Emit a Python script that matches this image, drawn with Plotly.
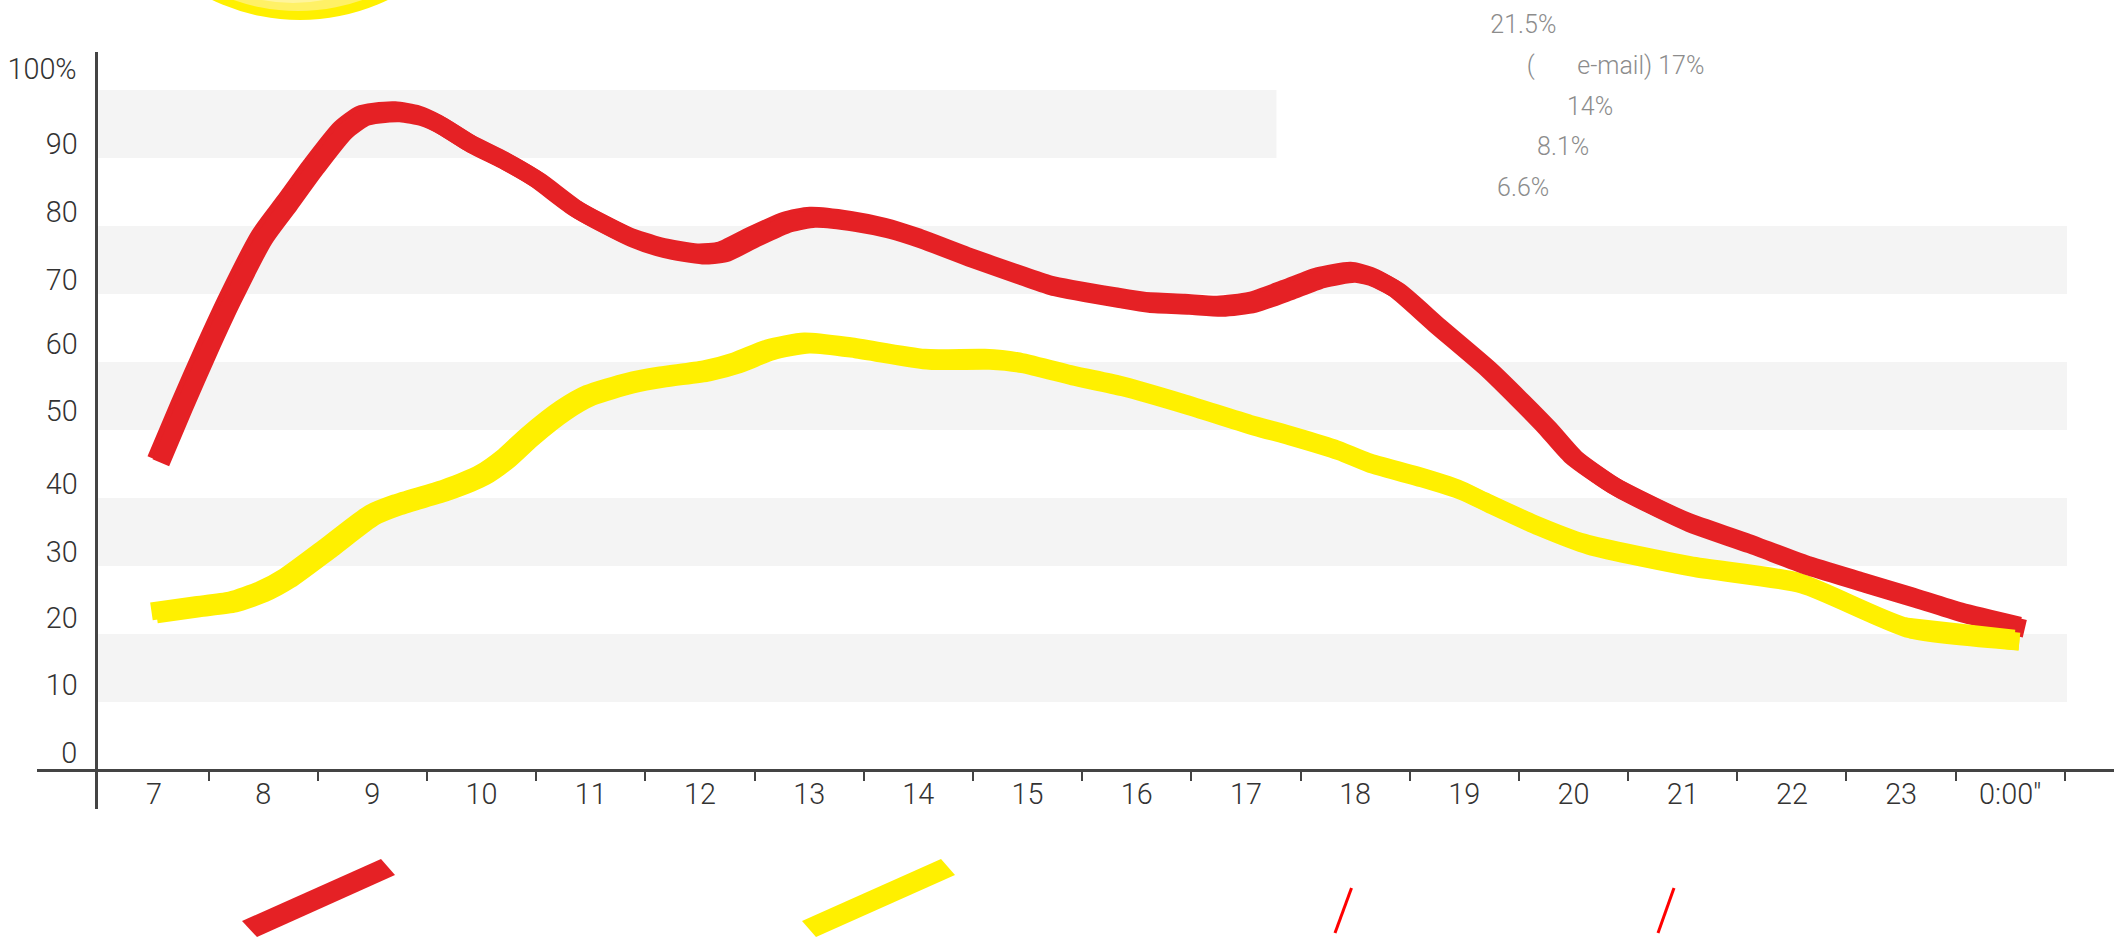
import plotly.graph_objects as go

W, H = 2114, 938

# ---- data ----
hours_red = [7.04,7.25,7.48,7.70,7.99,8.22,8.46,8.73,8.91,9.04,9.23,9.44,9.62,9.89,10.20,10.51,10.87,11.36,11.66,12.00,12.21,12.49,12.80,13.03,13.40,13.71,14.01,14.47,14.93,15.23,15.85,16.09,16.46,16.76,17.06,17.38,17.68,17.98,18.16,18.38,18.75,19.21,19.51,19.76,20.00,20.36,20.67,21.07,21.59,22.14,22.65,23.11,23.57,24.11]
values_red = [45.4,53.4,61.8,69.4,78.4,83.4,88.7,94.1,96.2,96.6,96.8,96.2,94.9,92.2,89.7,86.8,82.5,78.4,76.8,75.9,76.2,78.4,80.6,81.3,80.7,79.7,78.2,75.4,72.8,71.2,69.4,68.8,68.5,68.2,68.8,70.6,72.4,73.2,72.5,70.6,65.4,59.1,54.4,50.3,46.0,41.9,39.3,36.3,33.4,30.1,27.6,25.4,23.1,21.0]
hours_yellow = [7.00,7.39,7.72,7.99,8.22,8.61,9.00,9.23,9.68,10.01,10.23,10.44,10.75,10.99,11.36,11.66,12.06,12.34,12.64,12.98,13.40,14.08,14.63,14.93,15.39,15.85,16.46,17.06,17.38,17.83,18.14,18.59,18.96,19.21,19.66,20.12,21.09,22.07,23.06,24.06]
values_yellow = [23.1,24.0,24.7,26.2,28.2,32.8,37.5,39.0,41.2,43.4,45.9,49.0,52.9,55.1,56.9,57.8,58.7,59.9,61.8,62.8,62.1,60.4,60.4,59.9,58.1,56.5,53.7,50.7,49.3,47.1,45.1,43.1,41.2,39.3,36.0,33.2,29.9,27.5,20.9,19.1]

x_hours = list(range(7, 25))
x_labels = ["7","8","9","10","11","12","13","14","15","16","17","18","19","20","21","22","23",'0:00"']
x_ticks = [h + 0.5 for h in range(7, 25)]
y_labels = ["100%","90","80","70","60","50","40","30","20","10","0"]
y_label_pos = [103.1,92.1,82.1,72.1,62.7,52.9,42.1,32.2,22.5,12.6,2.5]
bands = [(10,20),(30,40),(50,60),(70,80),(90,100)]
notes = ["21.5%", "(\u00a0\u00a0\u00a0\u00a0\u00a0\u00a0\u00a0e-mail) 17%", "14%", "8.1%", "6.6%"]

# ---- style / layout ----
RED, YELLOW, AXIS = "#E52125", "#FFF000", "#444444"
FONT = "Roboto"
NIB_X, NIB_Y = 0.023, 0.22   # slanted-pen look: each line is stroked twice with a small offset
note_xy = [(1523,24),(1615,65),(1590,106),(1563,146),(1523,187)]
px = lambda v: v / W
py = lambda v: 1 - v / H

def pen(hours, values, color, width=18, smoothing=0.6):
    for s in (-1, 1):
        fig.add_trace(go.Scatter(x=[h + s * NIB_X for h in hours], y=[v - s * NIB_Y for v in values], mode="lines",
                                 line=dict(color=color, width=width, shape="spline", smoothing=smoothing)))

fig = go.Figure()
pen(hours_yellow, values_yellow, YELLOW)
pen(hours_red, values_red, RED)
pen(hours_yellow[-2:], values_yellow[-2:], YELLOW)

shapes = []
for a, b in bands:
    shapes.append(dict(type="rect", xref="x", yref="y", x0=6.49, x1=17.28 if b == 100 else 24.52, y0=a, y1=b,
                       fillcolor="#F4F4F4", line_width=0, layer="below"))
for cx, cy, r, c in [(300,-183,203,"#FFF000"),(298,-183,194,"#FFF166"),(293,-159,162,"#FFF59D")]:
    shapes.append(dict(type="circle", xref="paper", yref="paper", x0=px(cx-r), x1=px(cx+r), y0=py(cy+r), y1=py(cy-r),
                       fillcolor=c, line_width=0))
for pts, c in [([(381,859),(395,875),(257,937),(242,921)], RED), ([(941,859),(955,875),(816,937),(802,921)], YELLOW)]:
    path = "M " + " L ".join(f"{px(x):.5f} {py(y):.5f}" for x, y in pts) + " Z"
    shapes.append(dict(type="path", xref="paper", yref="paper", path=path, fillcolor=c, line_width=0))
for (x0,y0,x1,y1) in [(1335,933,1351.5,888),(1658,933,1674,888)]:
    shapes.append(dict(type="line", xref="paper", yref="paper", x0=px(x0), y0=py(y0), x1=px(x1), y1=py(y1),
                       line=dict(color="#FF0000", width=3)))

ann = []
for t, v in zip(y_labels, y_label_pos):
    ann.append(dict(text=t, xref="paper", yref="y", x=px(80), y=v, xanchor="right", yanchor="middle", showarrow=False,
                    font=dict(family=FONT, size=30, weight=300, color="#333333")))
for t, (x, y) in zip(notes, note_xy):
    ann.append(dict(text=t, xref="paper", yref="paper", x=px(x), y=py(y), xanchor="center", yanchor="middle", showarrow=False,
                    font=dict(family=FONT, size=26, weight=300, color="#8C8C8C")))

fig.update_layout(
    width=W, height=H, margin=dict(l=0, r=0, t=0, b=0), showlegend=False,
    paper_bgcolor="white", plot_bgcolor="white", shapes=shapes, annotations=ann,
    xaxis=dict(domain=[px(37), 1], range=[5.929, 24.95], anchor="free", position=py(769.5),
               showline=True, linecolor=AXIS, linewidth=3, showgrid=False, zeroline=False,
               tickmode="array", tickvals=x_hours, ticktext=x_labels, ticks="", ticklabelstandoff=-4,
               tickfont=dict(family=FONT, size=30, weight=300, color="#333333"),
               minor=dict(tickmode="array", tickvals=x_ticks, ticks="outside", ticklen=9, tickwidth=2, tickcolor=AXIS, showgrid=False)),
    yaxis=dict(domain=[py(809), py(52)], range=[-5.74, 105.6], anchor="free", position=px(96),
               showline=True, linecolor=AXIS, linewidth=3, showgrid=False, zeroline=False,
               showticklabels=False, ticks=""),
)
# the reference lettering is a condensed face: squeeze the real text horizontally
script = """
document.body.style.margin='0';
function squeeze(){
  document.querySelectorAll('.annotation-text, .xtick text').forEach(function(t){
    if(t.getAttribute('lengthAdjust')) return;
    var n=t.getComputedTextLength();
    if(n>0){t.setAttribute('textLength', (n*0.96).toFixed(1)); t.setAttribute('lengthAdjust','spacingAndGlyphs');}
  });
}
squeeze(); setTimeout(squeeze,50);
"""
fig.write_html("out.html", config=dict(displayModeBar=False), post_script=script)
